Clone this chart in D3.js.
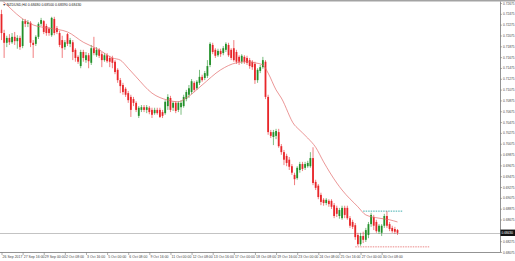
<!DOCTYPE html>
<html>
<head>
<meta charset="utf-8">
<script src="https://cdn.jsdelivr.net/npm/d3@7"></script>
<style>
  body { margin: 0; background: #fff; }
  svg { display: block; font-family: "Liberation Sans", Arial, sans-serif; }
</style>
</head>
<body>
<svg id="chart" width="515" height="261"></svg>
<script>
// NZDUSD H4, 26 Sep 2017 08:00 .. 31 Oct 2017 08:00 (one value per bar)
var symbol = "NZDUSD,H4";

var opens = [
  0.7247,0.7212,0.7194,0.7203,0.7195,0.7205,0.7197,0.7203,0.7188,0.7234,
  0.7229,0.7231,0.7194,0.7192,0.7205,0.7229,0.7234,0.7225,0.7220,0.7208,
  0.7238,0.7221,0.7212,0.7199,0.7186,0.7210,0.7192,0.7195,0.7181,0.7168,
  0.7151,0.7177,0.7162,0.7171,0.7157,0.7184,0.7171,0.7181,0.7173,0.7162,
  0.7171,0.7166,0.7166,0.7159,0.7144,0.7125,0.7116,0.7109,0.7101,0.7094,
  0.7090,0.7083,0.7059,0.7070,0.7075,0.7070,0.7074,0.7070,0.7064,0.7070,
  0.7070,0.7066,0.7064,0.7077,0.7092,0.7074,0.7083,0.7070,0.7075,0.7077,
  0.7090,0.7098,0.7103,0.7120,0.7110,0.7120,0.7131,0.7129,0.7133,0.7153,
  0.7190,0.7181,0.7171,0.7179,0.7175,0.7181,0.7190,0.7181,0.7184,0.7177,
  0.7168,0.7159,0.7168,0.7166,0.7162,0.7159,0.7155,0.7125,0.7142,0.7149,
  0.7159,0.7094,0.7029,0.7020,0.7022,0.7029,0.7003,0.6992,0.6985,0.6978,
  0.6966,0.6950,0.6944,0.6959,0.6970,0.6963,0.6966,0.6966,0.6981,0.6937,
  0.6930,0.6913,0.6904,0.6898,0.6902,0.6902,0.6894,0.6889,0.6874,0.6870,
  0.6889,0.6889,0.6870,0.6863,0.6857,0.6839,0.6822,0.6837,0.6830,0.6839,
  0.6859,0.6872,0.6863,0.6845,0.6843,0.6856,0.6874,0.6859,0.6852,0.6850,
  0.6848
];
var highs = [
  0.7255,0.7218,0.7207,0.7210,0.7212,0.7214,0.7208,0.7207,0.7238,0.7238,
  0.7236,0.7234,0.7199,0.7208,0.7232,0.7240,0.7236,0.7229,0.7223,0.7242,
  0.7242,0.7225,0.7216,0.7207,0.7199,0.7212,0.7203,0.7199,0.7184,0.7171,
  0.7181,0.7181,0.7177,0.7175,0.7190,0.7205,0.7186,0.7184,0.7177,0.7175,
  0.7175,0.7170,0.7170,0.7162,0.7147,0.7129,0.7120,0.7112,0.7105,0.7098,
  0.7094,0.7086,0.7077,0.7079,0.7079,0.7079,0.7077,0.7074,0.7074,0.7074,
  0.7074,0.7070,0.7088,0.7099,0.7096,0.7086,0.7086,0.7086,0.7088,0.7098,
  0.7107,0.7116,0.7127,0.7123,0.7125,0.7144,0.7135,0.7142,0.7162,0.7195,
  0.7194,0.7184,0.7183,0.7183,0.7188,0.7195,0.7194,0.7184,0.7199,0.7181,
  0.7171,0.7173,0.7171,0.7170,0.7166,0.7162,0.7159,0.7147,0.7153,0.7168,
  0.7162,0.7098,0.7033,0.7033,0.7035,0.7035,0.7007,0.6996,0.6989,0.6983,
  0.6970,0.6954,0.6966,0.6974,0.6974,0.6974,0.6976,0.6992,0.7001,0.6941,
  0.6933,0.6917,0.6907,0.6907,0.6905,0.6905,0.6898,0.6893,0.6889,0.6893,
  0.6893,0.6893,0.6874,0.6867,0.6861,0.6843,0.6843,0.6845,0.6852,0.6863,
  0.6880,0.6876,0.6867,0.6859,0.6859,0.6878,0.6883,0.6863,0.6856,0.6854,
  0.6850
];
var lows = [
  0.7199,0.7166,0.7186,0.7190,0.7192,0.7190,0.7183,0.7181,0.7184,0.7223,
  0.7223,0.7186,0.7166,0.7188,0.7201,0.7225,0.7210,0.7207,0.7207,0.7205,
  0.7208,0.7210,0.7186,0.7166,0.7181,0.7188,0.7186,0.7162,0.7159,0.7155,
  0.7147,0.7159,0.7157,0.7147,0.7153,0.7171,0.7168,0.7166,0.7149,0.7159,
  0.7157,0.7149,0.7147,0.7136,0.7120,0.7101,0.7098,0.7094,0.7083,0.7057,
  0.7077,0.7066,0.7055,0.7066,0.7066,0.7064,0.7062,0.7055,0.7061,0.7061,
  0.7055,0.7055,0.7061,0.7070,0.7066,0.7068,0.7064,0.7066,0.7061,0.7074,
  0.7086,0.7092,0.7099,0.7103,0.7107,0.7116,0.7122,0.7125,0.7129,0.7149,
  0.7173,0.7166,0.7168,0.7168,0.7171,0.7177,0.7168,0.7162,0.7159,0.7155,
  0.7153,0.7155,0.7155,0.7153,0.7146,0.7144,0.7118,0.7120,0.7138,0.7146,
  0.7090,0.7024,0.7018,0.7005,0.7016,0.7000,0.6987,0.6968,0.6966,0.6959,
  0.6950,0.6931,0.6941,0.6954,0.6957,0.6959,0.6963,0.6963,0.6931,0.6922,
  0.6905,0.6894,0.6893,0.6894,0.6891,0.6887,0.6870,0.6872,0.6869,0.6867,
  0.6870,0.6867,0.6852,0.6850,0.6830,0.6819,0.6819,0.6824,0.6826,0.6833,
  0.6854,0.6848,0.6843,0.6841,0.6837,0.6852,0.6852,0.6846,0.6843,0.6841,
  0.6839
];
var closes = [
  0.7212,0.7194,0.7203,0.7195,0.7205,0.7197,0.7203,0.7186,0.7234,0.7229,
  0.7232,0.7194,0.7190,0.7205,0.7229,0.7236,0.7214,0.7212,0.7212,0.7240,
  0.7212,0.7214,0.7190,0.7184,0.7195,0.7192,0.7199,0.7177,0.7166,0.7159,
  0.7177,0.7166,0.7171,0.7160,0.7184,0.7175,0.7181,0.7170,0.7162,0.7171,
  0.7160,0.7159,0.7157,0.7140,0.7125,0.7114,0.7103,0.7098,0.7088,0.7070,
  0.7083,0.7070,0.7074,0.7075,0.7070,0.7075,0.7066,0.7061,0.7070,0.7064,
  0.7057,0.7059,0.7085,0.7094,0.7070,0.7083,0.7068,0.7083,0.7083,0.7094,
  0.7103,0.7110,0.7123,0.7107,0.7122,0.7131,0.7125,0.7138,0.7151,0.7192,
  0.7177,0.7170,0.7179,0.7173,0.7184,0.7192,0.7171,0.7166,0.7162,0.7159,
  0.7159,0.7170,0.7159,0.7157,0.7151,0.7149,0.7125,0.7144,0.7149,0.7162,
  0.7094,0.7029,0.7022,0.7029,0.7031,0.7003,0.6992,0.6978,0.6972,0.6965,
  0.6954,0.6942,0.6963,0.6970,0.6961,0.6970,0.6972,0.6981,0.6935,0.6926,
  0.6909,0.6900,0.6898,0.6904,0.6896,0.6891,0.6874,0.6878,0.6885,0.6889,
  0.6876,0.6870,0.6856,0.6854,0.6835,0.6822,0.6837,0.6830,0.6848,0.6859,
  0.6876,0.6856,0.6846,0.6856,0.6856,0.6874,0.6856,0.6850,0.6846,0.6845,
  0.6843
];

// moving average: [bar index, price]
var maPoints = [
  [0,0.7273],[2,0.7264],[7,0.7242],[12,0.7227],[18,0.7221],[25,0.7214],
  [31,0.7195],[37,0.7181],[42,0.7166],[45,0.7162],[48,0.7147],[51,0.7131],
  [57,0.7101],[63,0.7088],[67,0.7085],[70,0.7092],[76,0.7116],[83,0.7144],
  [89,0.7157],[93,0.7159],[96,0.7157],[99,0.7153],[101,0.7138],[104,0.7107],
  [106,0.7092],[111,0.7042],[112,0.7037],[116,0.7018],[119,0.7001],[122,0.6974],
  [127,0.6935],[129,0.6922],[135,0.6891],[138,0.6876],[143,0.6870],[147,0.6867],
  [150,0.6863]
];

// time labels, one every 8 bars
var dateLabels = [
  "26 Sep 2017","27 Sep 16:00","29 Sep 00:00","2 Oct 08:00","3 Oct 16:00",
  "5 Oct 00:00","6 Oct 08:00","9 Oct 16:00","11 Oct 00:00","12 Oct 08:00",
  "13 Oct 16:00","17 Oct 00:00","18 Oct 08:00","19 Oct 16:00","23 Oct 00:00",
  "24 Oct 08:00","25 Oct 16:00","27 Oct 00:00","30 Oct 08:00"
];
var labelEvery = 8;

var priceTicks = [
  0.72675,0.72475,0.72275,0.72075,0.71875,0.71675,0.71475,0.71275,
  0.71075,0.70875,0.70675,0.70475,0.70275,0.70075,0.69875,0.69675,
  0.69475,0.69275,0.69075,0.68875,0.68675,0.68475,0.68275,0.68075
];

// horizontal levels near the end: [price, from bar, to bar]
var highLevel = [0.6883, 137, 152];
var lowLevel = [0.6817, 134, 162];

var W = 515, H = 261, plotR = 500, plotB = 252;
var svg = d3.select("#chart");

var x = d3.scaleLinear().domain([0, 150]).range([1.5, 397.5]);
var y = d3.scaleLinear().domain([0.68075, 0.72675]).range([252, 3]);

var bars = closes.map(function(c, i) {
  return {i: i, o: opens[i], h: highs[i], l: lows[i], c: c};
});
var last = bars[bars.length - 1];
var f5 = d3.format(".5f");

var bull = "#23902a", bear = "#e8262a";

svg.append("rect").attr("width", W).attr("height", H).attr("fill", "#fff");

svg.append("defs").append("clipPath").attr("id", "plot-clip")
  .append("rect").attr("x", 0).attr("y", 1.5).attr("width", plotR).attr("height", plotB - 1.5);

var plot = svg.append("g").attr("clip-path", "url(#plot-clip)");

// bid line
plot.append("line")
  .attr("x1", 0).attr("x2", plotR)
  .attr("y1", Math.round(y(last.c)) + 0.5).attr("y2", Math.round(y(last.c)) + 0.5)
  .attr("stroke", "#b4b4b4").attr("stroke-width", 0.8);

// level lines
plot.append("line")
  .attr("x1", x(highLevel[1])).attr("x2", x(highLevel[2]))
  .attr("y1", y(highLevel[0])).attr("y2", y(highLevel[0]))
  .attr("stroke", "#2aa6a6").attr("stroke-width", 0.9).attr("stroke-dasharray", "1.5,1");
plot.append("line")
  .attr("x1", x(lowLevel[1])).attr("x2", x(lowLevel[2]))
  .attr("y1", y(lowLevel[0])).attr("y2", y(lowLevel[0]))
  .attr("stroke", "#e87a7a").attr("stroke-width", 0.9).attr("stroke-dasharray", "1.5,1");

// wicks
plot.selectAll("line.wick").data(bars).enter().append("line")
  .attr("class", "wick")
  .attr("x1", function(d) { return x(d.i); })
  .attr("x2", function(d) { return x(d.i); })
  .attr("y1", function(d) { return y(d.h); })
  .attr("y2", function(d) { return y(d.l); })
  .attr("stroke", function(d) { return d.c >= d.o ? bull : bear; })
  .attr("stroke-width", 0.6);

// bodies
plot.selectAll("rect.body").data(bars).enter().append("rect")
  .attr("class", "body")
  .attr("x", function(d) { return x(d.i) - 0.9; })
  .attr("width", 1.8)
  .attr("y", function(d) { return y(Math.max(d.o, d.c)); })
  .attr("height", function(d) { return Math.max(0.6, Math.abs(y(d.o) - y(d.c))); })
  .attr("fill", function(d) { return d.c >= d.o ? bull : bear; });

// moving average
plot.append("path").datum(maPoints)
  .attr("d", d3.line()
    .x(function(d) { return x(d[0]); })
    .y(function(d) { return y(d[1]); })
    .curve(d3.curveMonotoneX))
  .attr("fill", "none")
  .attr("stroke", "#e36a6a")
  .attr("stroke-width", 0.7);

// frame
svg.append("rect").attr("x", 0).attr("y", 0).attr("width", W).attr("height", 1.5).attr("fill", "#a3a3a3");
svg.append("line").attr("x1", 0).attr("x2", plotR + 0.5).attr("y1", plotB + 0.5).attr("y2", plotB + 0.5)
  .attr("stroke", "#777").attr("stroke-width", 0.8);

// right price axis
var yAxis = d3.axisRight(y)
  .tickValues(priceTicks.filter(function(p) { return Math.abs(y(p) - y(last.c)) > 5; }))
  .tickSize(1.5).tickSizeOuter(0).tickPadding(1)
  .tickFormat(f5);
var gy = svg.append("g").attr("transform", "translate(" + (plotR + 0.5) + ",0)").call(yAxis);
gy.select(".domain").attr("stroke", "#777").attr("stroke-width", 0.8)
  .attr("d", "M0,1.5V" + (plotB + 0.5));
gy.selectAll(".tick line").attr("stroke", "#777").attr("stroke-width", 0.6);
gy.selectAll(".tick text").attr("font-size", 3.2).attr("fill", "#444").attr("font-family", null);

// current price box
svg.append("rect")
  .attr("x", plotR + 0.5).attr("y", y(last.c) - 3.2)
  .attr("width", 14.5).attr("height", 6.4).attr("fill", "#111");
svg.append("text")
  .attr("x", plotR + 1.6).attr("y", y(last.c)).attr("dy", "0.35em")
  .attr("font-size", 3.2).attr("fill", "#fff")
  .text(f5(last.c));

// bottom time axis
var xAxis = d3.axisBottom(x)
  .tickValues(d3.range(0, dateLabels.length * labelEvery, labelEvery))
  .tickSize(2.5).tickSizeOuter(0).tickPadding(1)
  .tickFormat(function(d, i) { return dateLabels[i]; });
var gx = svg.append("g").attr("transform", "translate(0," + (plotB + 0.5) + ")").call(xAxis);
gx.select(".domain").remove();
gx.selectAll(".tick line").attr("stroke", "#777").attr("stroke-width", 0.6);
gx.selectAll(".tick text").attr("font-size", 3.5).attr("fill", "#444")
  .attr("text-anchor", "start").attr("dx", 0.6).attr("font-family", null);

// title with last bar OHLC
var title = svg.append("text").attr("x", 2.5).attr("y", 6.3).attr("font-size", 3.5).attr("fill", "#222");
title.append("tspan").attr("fill", "#444").text("\u25BC");
title.append("tspan").attr("dx", 0.8)
  .text(symbol + "  " + [last.o, last.h, last.l, last.c].map(f5).join(" "));
</script>
</body>
</html>
